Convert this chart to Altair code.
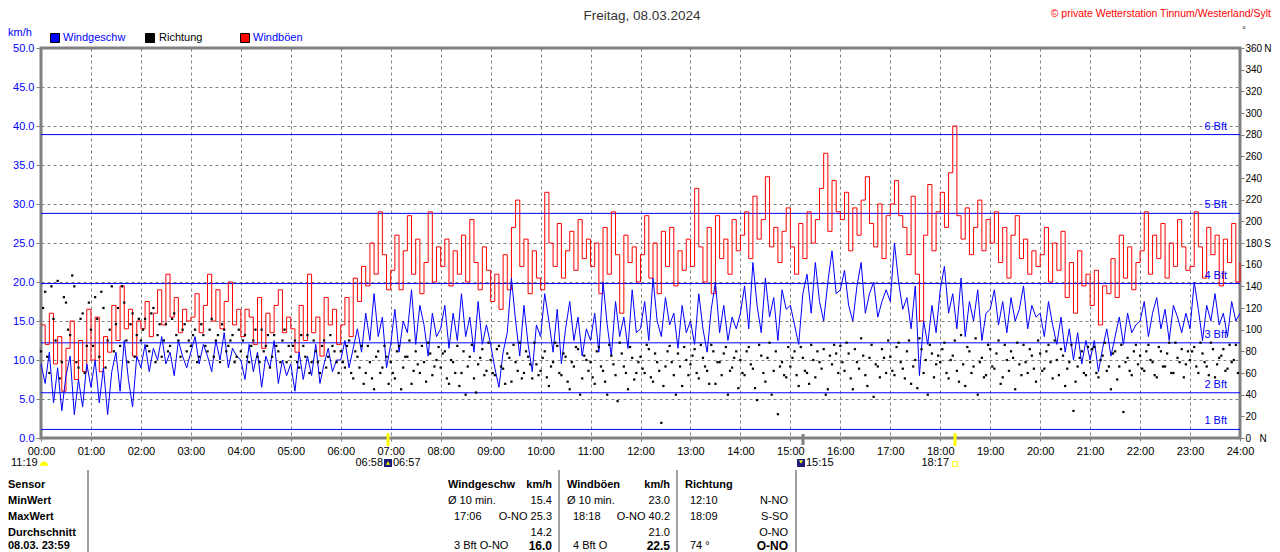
import altair as alt
import pandas as pd

FONT = "Liberation Sans"

# ---------------- data (5-minute readings, 00:00 .. 24:00) ----------------
minutes = list(range(0, 1441, 5))

wind_speed = [
    9.5, 7.0, 11.0, 4.5, 9.0, 3.5, 8.0, 10.5, 3.0, 7.5, 4.0, 9.5,
    6.5, 10.0, 4.5, 9.0, 3.0, 8.5, 11.0, 6.0, 12.5, 7.5, 4.0, 10.5,
    9.0, 12.0, 8.5, 11.5, 10.0, 13.0, 9.5, 11.0, 8.0, 12.5, 10.5, 9.0,
    11.0, 13.0, 9.5, 12.0, 10.5, 8.5, 12.5, 10.0, 13.5, 9.0, 11.5, 10.5,
    10.0, 7.5, 12.0, 8.5, 11.0, 6.5, 10.5, 9.0, 12.5, 7.0, 10.0, 8.0,
    9.5, 6.0, 11.0, 7.5, 10.5, 8.0, 12.0, 7.0, 9.5, 11.5, 8.5, 10.0,
    10.0, 12.5, 9.0, 11.5, 14.0, 11.0, 16.0, 12.5, 18.5, 13.0, 15.5, 9.0,
    12.0, 16.5, 11.0, 15.0, 13.5, 19.0, 12.0, 17.0, 14.5, 10.5, 16.0, 13.0,
    14.0, 17.0, 11.5, 16.0, 12.5, 18.5, 13.0, 15.5, 11.0, 17.5, 12.0, 14.5,
    12.0, 9.0, 6.5, 11.0, 13.5, 20.5, 15.0, 10.5, 17.0, 12.0, 8.5, 14.5,
    13.0, 18.5, 15.0, 11.0, 16.5, 9.5, 14.0, 17.5, 12.5, 15.5, 10.5, 14.0,
    12.5, 16.0, 11.0, 20.0, 14.5, 10.5, 17.5, 13.0, 15.5, 11.5, 19.0, 13.5,
    14.0, 17.5, 12.5, 20.5, 15.0, 13.0, 18.0, 14.5, 16.0, 11.5, 17.0, 13.5,
    15.0, 12.0, 18.5, 14.0, 11.0, 16.5, 20.0, 13.5, 17.0, 12.5, 15.5, 14.0,
    16.0, 19.5, 14.0, 22.5, 17.0, 13.5, 20.5, 15.5, 18.0, 12.5, 19.0, 16.5,
    17.0, 14.5, 12.0, 18.5, 21.0, 16.0, 22.5, 17.5, 15.0, 20.0, 24.0, 18.5,
    19.0, 21.5, 17.0, 15.0, 19.5, 22.5, 16.0, 18.5, 20.0, 15.5, 17.5, 19.0,
    17.5, 25.0, 20.0, 16.5, 18.0, 14.0, 19.5, 8.0, 15.0, 12.0, 17.0, 13.5,
    19.0, 22.0, 16.0, 18.5, 14.0, 20.5, 13.0, 17.5, 15.0, 19.0, 12.5, 16.0,
    16.5, 19.0, 14.5, 17.5, 13.5, 18.0, 15.0, 16.5, 19.5, 14.0, 17.0, 15.5,
    16.0, 13.0, 17.5, 14.5, 12.0, 15.5, 11.0, 14.0, 10.0, 13.5, 9.5, 12.5,
    10.0, 12.5, 8.5, 11.5, 14.0, 10.5, 13.0, 15.5, 12.0, 16.0, 13.5, 14.5,
    15.0, 17.5, 13.0, 16.0, 18.0, 14.0, 16.5, 12.5, 17.0, 15.5, 13.5, 16.0,
    14.0, 20.0, 16.5, 12.5, 17.0, 15.0, 18.5, 14.5, 16.0, 13.0, 17.5, 15.0,
    16.0,
]

wind_gust = [
    14.5, 12.0, 16.0, 9.5, 13.0, 6.0, 11.5, 15.0, 7.5, 12.5, 8.5, 16.5,
    10.0, 15.5, 8.5, 13.0, 11.0, 17.0, 12.5, 19.5, 14.0, 16.5, 10.5, 15.0,
    14.0, 17.5, 13.0, 16.0, 19.0, 14.5, 21.0, 15.5, 18.0, 13.5, 16.5, 15.0,
    15.5, 18.5, 13.5, 17.0, 21.0, 15.0, 19.0, 14.0, 17.5, 20.0, 14.5, 16.5,
    13.0, 16.5, 15.5, 12.0, 18.0, 11.5, 16.0, 13.5, 17.0, 19.0, 13.5, 15.5,
    14.0, 11.0, 17.0, 12.5, 21.0, 13.5, 15.5, 10.5, 18.0, 14.5, 16.5, 12.0,
    14.5, 18.0, 13.0, 20.5, 17.5, 22.0, 19.5, 25.0, 21.0, 29.0, 23.5, 19.0,
    21.5, 26.0, 19.0, 24.0, 28.5, 21.0, 25.5, 18.5, 22.5, 29.0, 20.0, 24.5,
    22.0, 25.5, 19.5, 24.0, 21.0, 26.0, 20.0, 28.0, 22.5, 19.0, 24.5, 21.5,
    17.5, 21.0, 16.5, 23.5, 19.0, 27.0, 30.5, 22.0, 25.5, 18.5, 24.0, 20.5,
    19.0, 31.5, 25.0, 22.0, 27.5, 20.5, 24.0, 26.5, 21.5, 28.0, 23.0, 25.5,
    22.0, 25.0, 18.5, 27.0, 21.0, 29.0, 23.5, 16.0, 26.0, 22.5, 24.5, 20.0,
    23.5, 28.5, 20.5, 25.0, 18.5, 26.5, 22.0, 27.0, 19.5, 24.0, 21.5, 25.5,
    22.0, 32.0, 24.5, 20.0, 27.0, 18.5, 28.5, 23.0, 25.5, 21.0, 28.0, 24.0,
    26.0, 29.0, 23.0, 31.0, 25.5, 28.0, 33.5, 24.5, 27.0, 22.5, 26.5, 29.5,
    24.5, 21.0, 27.5, 23.0, 29.0, 25.0, 28.0, 32.0, 36.5, 26.5, 33.0, 29.0,
    28.0, 31.5, 24.0, 29.5, 26.0, 30.5, 33.5, 27.5, 24.5, 30.0, 23.0, 28.5,
    30.0, 33.0, 28.5, 27.0, 23.5, 31.0, 21.0, 15.0, 26.0, 32.5, 24.0, 29.0,
    31.5, 27.0, 34.0, 40.0, 28.5, 25.5, 29.5, 23.5, 27.0, 30.5, 24.0, 28.0,
    25.0, 29.0, 22.5, 27.0, 20.5, 26.0, 28.5, 23.0, 25.5, 21.0, 24.0, 22.0,
    23.5, 27.0, 20.0, 25.0, 21.5, 26.5, 18.0, 22.5, 16.0, 24.0, 19.5, 21.0,
    17.0, 21.5, 14.5, 19.5, 18.5, 23.0, 18.0, 26.0, 20.5, 24.5, 19.0, 22.5,
    24.0, 29.0, 21.0, 26.0, 23.0, 27.5, 20.5, 25.0, 22.0, 28.0, 24.5, 21.5,
    22.0, 29.0, 24.5, 20.5, 27.0, 23.5, 26.0, 19.5, 25.5, 22.5, 27.5, 20.0,
    22.5,
]

# wind direction in degrees, read on the full minutes (:00, :05, ...)
direction = [
    80, 135, 60, 110, 145, 70, 125, 95, 140, 65, 115, 85,
    100, 130, 75, 120, 90, 140, 105, 85, 125, 70, 115, 95,
    90, 110, 80, 120, 95, 75, 105, 85, 115, 90, 100, 80,
    85, 100, 75, 95, 80, 110, 90, 70, 100, 85, 95, 75,
    80, 95, 70, 90, 75, 100, 85, 65, 95, 80, 90, 70,
    75, 90, 65, 85, 95, 70, 80, 60, 90, 75, 85, 70,
    80, 65, 90, 55, 75, 85, 60, 70, 45, 80, 65, 75,
    70, 55, 85, 65, 75, 50, 80, 60, 70, 88, 58, 72,
    65, 80, 50, 70, 85, 60, 40, 75, 55, 68, 82, 62,
    72, 58, 85, 64, 78, 52, 70, 88, 60, 75, 55, 68,
    62, 80, 48, 70, 85, 58, 75, 45, 66, 82, 55, 72,
    70, 50, 84, 62, 40, 76, 58, 88, 66, 45, 74, 60,
    75, 60, 82, 52, 70, 14, 66, 85, 58, 78, 48, 72,
    68, 82, 55, 74, 62, 86, 50, 70, 78, 40, 65, 80,
    72, 58, 84, 64, 35, 76, 52, 88, 62, 22, 70, 56,
    66, 80, 48, 74, 60, 86, 56, 70, 82, 45, 68, 78,
    85, 62, 78, 45, 70, 92, 58, 74, 38, 66, 82, 60,
    75, 58, 88, 64, 80, 50, 72, 92, 60, 40, 78, 68,
    70, 88, 55, 76, 62, 95, 48, 80, 66, 40, 74, 58,
    82, 64, 90, 56, 72, 80, 45, 68, 86, 60, 76, 52,
    78, 64, 86, 55, 72, 82, 48, 70, 25, 66, 80, 58,
    70, 84, 56, 76, 62, 45, 80, 66, 24, 74, 58, 86,
    76, 62, 86, 70, 56, 80, 66, 88, 60, 74, 82, 68,
    72, 84, 60, 78, 66, 88, 56, 74, 82, 64, 70, 86,
]

# wind direction in degrees, read half-way between (:02.5, :07.5, ...)
direction_half = [
    120, 75, 140, 90, 55, 130, 100, 150, 70, 110, 60, 125,
    85, 110, 135, 65, 100, 80, 120, 140, 90, 105, 75, 110,
    100, 85, 115, 70, 105, 90, 80, 110, 95, 75, 105, 90,
    95, 70, 105, 85, 100, 75, 95, 105, 80, 90, 70, 100,
    90, 75, 85, 100, 70, 80, 95, 75, 85, 70, 100, 85,
    85, 70, 95, 75, 60, 90, 70, 85, 65, 95, 80, 60,
    70, 85, 60, 80, 65, 50, 85, 55, 75, 60, 85, 50,
    60, 80, 45, 75, 90, 62, 68, 85, 52, 78, 66, 84,
    78, 55, 72, 60, 48, 80, 66, 86, 42, 74, 58, 88,
    60, 82, 66, 50, 74, 86, 62, 55, 80, 68, 88, 58,
    74, 56, 66, 88, 60, 78, 52, 70, 84, 40, 76, 62,
    56, 80, 66, 52, 86, 68, 34, 78, 60, 84, 54, 70,
    64, 86, 56, 78, 62, 48, 80, 70, 40, 66, 84, 58,
    76, 60, 86, 66, 50, 80, 70, 58, 84, 62, 74, 46,
    60, 80, 68, 46, 86, 60, 74, 40, 80, 66, 58, 84,
    74, 58, 84, 62, 50, 72, 80, 64, 40, 76, 86, 60,
    70, 88, 55, 82, 64, 76, 48, 86, 68, 56, 74, 90,
    62, 84, 70, 55, 90, 66, 46, 82, 72, 86, 56, 76,
    82, 60, 72, 90, 52, 68, 84, 60, 92, 70, 56, 86,
    66, 78, 50, 86, 62, 74, 88, 58, 70, 82, 64, 90,
    62, 80, 70, 90, 58, 76, 64, 86, 52, 74, 60, 84,
    82, 60, 72, 88, 66, 78, 54, 86, 70, 62, 80, 68,
    64, 80, 72, 58, 84, 66, 78, 60, 88, 70, 56, 80,
    80, 66, 88, 70, 58, 82, 68, 76, 62, 86, 72, 60,
]

bft_kmh = [1.1, 5.8, 12.2, 19.8, 28.8, 38.9]
bft_labels = ["1 Bft", "2 Bft", "3 Bft", "4 Bft", "5 Bft", "6 Bft"]

hour_ticks = list(range(0, 1441, 60))
kmh_ticks = [0, 5, 10, 15, 20, 25, 30, 35, 40, 45, 50]
deg_ticks = list(range(0, 361, 20))

# ---------------- layout ----------------
W, H = 1199, 390
PAD = {"left": 33, "top": 40, "right": 32, "bottom": 114}
OX, OY = 8 + PAD["left"], 8 + PAD["top"]
BLUE, RED, GRAY = "#0000FF", "#FF0000", "#808080"

df = pd.DataFrame({"t": minutes, "speed": wind_speed, "gust": wind_gust})
ddf = pd.DataFrame({
    "t": minutes[:-1] + [m + 2.5 for m in minutes[:-1]],
    "dir": direction + direction_half,
})
bdf = pd.DataFrame({"v": bft_kmh, "label": bft_labels})
anchor = pd.DataFrame({"a": [0]})

xscale = alt.Scale(domain=[0, 1440], nice=False, zero=False)
kscale = alt.Scale(domain=[0, 50], nice=False)
dscale = alt.Scale(domain=[0, 360], nice=False)

x_axis = alt.Axis(
    values=hour_ticks, title=None, domain=False, grid=True, gridDash=[3, 3],
    gridColor=GRAY, gridOpacity=1, tickColor=GRAY, tickSize=3, labelPadding=4,
    labelFontSize=11, labelColor="black", labelFlush=False, labelOverlap=False,
    labelExpr="(datum.value/60 < 10 ? '0' : '') + (datum.value/60) + ':00'",
)
left_axis = alt.Axis(
    values=kmh_ticks, format=".1f", title=None, domain=False, grid=True,
    gridDash=[3, 3], gridColor=GRAY, gridOpacity=1, tickColor=GRAY, tickSize=5,
    labelPadding=2, labelFontSize=11, labelColor=BLUE, labelOverlap=False,
)
right_axis = alt.Axis(
    orient="right", values=deg_ticks, title=None, domain=False, grid=False,
    tickColor=GRAY, tickSize=4, labelPadding=1, labelFontSize=10,
    labelColor="black", labelOverlap=False,
    labelExpr="datum.value == 360 ? '360\u2009N' : datum.value == 180 ? '180\u2009S' : "
              "datum.value == 0 ? '0\u00a0\u00a0\u00a0N' : datum.label",
)

X = alt.X("t:Q", scale=xscale, axis=x_axis)


def label(text, px, py, color="black", size=11, weight="normal", align="left"):
    return alt.Chart(anchor).mark_text(
        text=text, align=align, baseline="middle", color=color,
        fontSize=size, fontWeight=weight, font=FONT,
    ).encode(x=alt.value(px - OX), y=alt.value(py - OY))


def symbol(px, py, shape, size, fill=None, stroke=None, sw=1):
    kw = dict(shape=shape, size=size, opacity=1, strokeWidth=sw)
    if fill:
        kw.update(filled=True, fill=fill)
    else:
        kw.update(filled=False)
    if stroke:
        kw.update(stroke=stroke)
    return alt.Chart(anchor).mark_point(**kw).encode(
        x=alt.value(px - OX), y=alt.value(py - OY))


def vline(px, py1, py2, color, width):
    return alt.Chart(anchor).mark_rule(color=color, strokeWidth=width).encode(
        x=alt.value(px - OX), y=alt.value(py1 - OY), y2=alt.value(py2 - OY))


rules = alt.Chart(bdf).mark_rule(color=BLUE, strokeWidth=1).encode(
    y=alt.Y("v:Q", scale=kscale, axis=left_axis))
gust = alt.Chart(df).mark_line(color=RED, strokeWidth=1, interpolate="step-after").encode(
    x=X, y=alt.Y("gust:Q", scale=kscale, axis=left_axis))
speed = alt.Chart(df).mark_line(color=BLUE, strokeWidth=1).encode(
    x=X, y=alt.Y("speed:Q", scale=kscale, axis=left_axis))
bft_text = alt.Chart(bdf).mark_text(
    align="right", baseline="middle", dy=-8, color=BLUE, fontSize=11, font=FONT
).encode(x=alt.value(1227 - OX), y=alt.Y("v:Q", scale=kscale, axis=left_axis), text="label:N")

annotations = [
    label("Freitag, 08.03.2024", 642, 16, color="#333333", size=13.5, align="center"),
    label("© private Wetterstation Tinnum/Westerland/Sylt", 1271, 14, color=RED, size=10.5, align="right"),
    label("°", 1244, 30, size=9, align="center"),
    label("km/h", 8, 33, color=BLUE),
    symbol(55, 38, "square", 81, fill=BLUE, stroke="black"),
    label("Windgeschw", 63, 38, color=BLUE),
    symbol(150, 38, "square", 81, fill="black", stroke="black"),
    label("Richtung", 159, 38),
    symbol(245, 38, "square", 81, fill=RED, stroke="black"),
    label("Windböen", 253, 38, color=BLUE),
    # sun / moon markers under the time axis
    label("11:19", 11, 463),
    symbol(44, 464, "M -1 0.4 A 1 1 0 0 1 1 0.4 Z", 70, fill="#FFFF00"),
    vline(388, 433, 446, "#FFFF00", 3),
    label("06:58", 383, 463, align="right"),
    symbol(388, 463, "square", 64, fill="#1C1C78"),
    symbol(388, 463, "triangle-up", 16, fill="#FFFF00"),
    label("06:57", 393, 463),
    vline(803, 434, 445, GRAY, 3),
    symbol(801, 463, "square", 64, fill="#1C1C78"),
    symbol(801, 462, "triangle-down", 16, fill="#FFFF00"),
    label("15:15", 806, 463),
    vline(955, 433, 446, "#FFFF00", 3),
    label("18:17", 949, 463, align="right"),
    symbol(955, 464, "square", 22, stroke="#FFFF00"),
    # table separators
    vline(88, 470, 552, "#A0A0A0", 2),
    vline(559, 470, 552, "#A0A0A0", 2),
    vline(677, 470, 552, "#A0A0A0", 2),
    vline(796, 470, 552, "#A0A0A0", 2),
]

rows = [485, 501, 517, 533, 546]
for name, yy in zip(["Sensor", "MinWert", "MaxWert", "Durchschnitt", "08.03. 23:59"], rows):
    annotations.append(label(name, 8, yy, weight="bold"))

table_cells = [
    ("Windgeschw", 448, 0, "left", "bold", 11), ("km/h", 552, 0, "right", "bold", 11),
    ("Ø 10 min.", 448, 1, "left", "normal", 11), ("15.4", 552, 1, "right", "normal", 11),
    ("17:06", 454, 2, "left", "normal", 11), ("O-NO 25.3", 552, 2, "right", "normal", 11),
    ("14.2", 552, 3, "right", "normal", 11),
    ("3 Bft O-NO", 454, 4, "left", "normal", 11), ("16.0", 552, 4, "right", "bold", 12),
    ("Windböen", 567, 0, "left", "bold", 11), ("km/h", 670, 0, "right", "bold", 11),
    ("Ø 10 min.", 567, 1, "left", "normal", 11), ("23.0", 670, 1, "right", "normal", 11),
    ("18:18", 573, 2, "left", "normal", 11), ("O-NO 40.2", 670, 2, "right", "normal", 11),
    ("21.0", 670, 3, "right", "normal", 11),
    ("4 Bft O", 573, 4, "left", "normal", 11), ("22.5", 670, 4, "right", "bold", 12),
    ("Richtung", 685, 0, "left", "bold", 11),
    ("12:10", 690, 1, "left", "normal", 11), ("N-NO", 788, 1, "right", "normal", 11),
    ("18:09", 690, 2, "left", "normal", 11), ("S-SO", 788, 2, "right", "normal", 11),
    ("O-NO", 788, 3, "right", "normal", 11),
    ("74 °", 690, 4, "left", "normal", 11), ("O-NO", 788, 4, "right", "bold", 12),
]
for text, px, r, al, wt, sz in table_cells:
    annotations.append(label(text, px, rows[r], weight=wt, size=sz, align=al))

kmh_group = alt.layer(rules, gust, speed, bft_text, *annotations)
dir_layer = alt.Chart(ddf).mark_square(size=5, color="black", opacity=1).encode(
    x=X, y=alt.Y("dir:Q", scale=dscale, axis=right_axis))

chart = (
    alt.layer(kmh_group, dir_layer)
    .resolve_scale(y="independent")
    .properties(width=W, height=H, autosize=alt.AutoSizeParams(type="none"), padding=PAD)
    .configure(font=FONT)
    .configure_view(stroke=GRAY, strokeWidth=3)
)

chart.save("out.html", embed_options={"renderer": "svg", "actions": False})
